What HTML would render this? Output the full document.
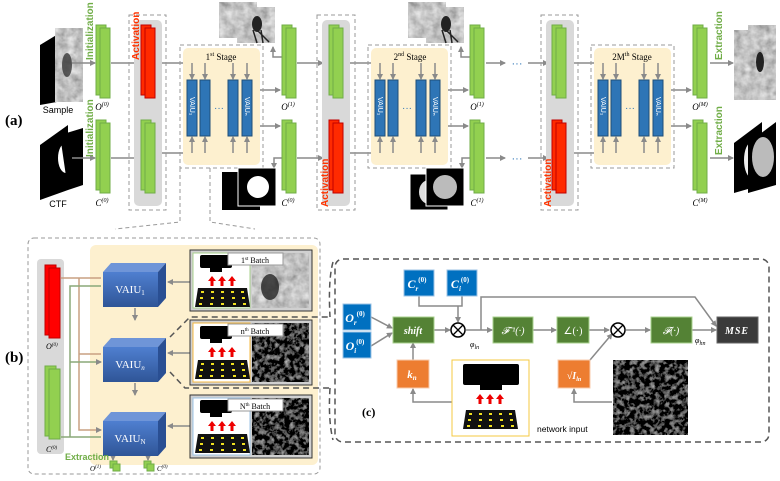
<!DOCTYPE html>
<html><head><meta charset="utf-8"><style>
html,body{margin:0;padding:0;background:#fff}
svg{display:block}
.s{font-family:"Liberation Serif",serif}
.a{font-family:"Liberation Sans",sans-serif}
</style></head><body>
<svg width="780" height="481" viewBox="0 0 780 481" xmlns="http://www.w3.org/2000/svg">
<defs>
<marker id="ar" markerWidth="6" markerHeight="6" refX="5" refY="3" orient="auto" markerUnits="userSpaceOnUse"><path d="M0,0 L6,3 L0,6z" fill="#8a8a8a"/></marker>
<filter id="nz" x="0" y="0" width="100%" height="100%"><feTurbulence type="fractalNoise" baseFrequency="0.12" numOctaves="3" seed="3"/><feColorMatrix type="matrix" values="0.33 0.33 0.33 0 0  0.33 0.33 0.33 0 0  0.33 0.33 0.33 0 0  0 0 0 0 1"/><feComponentTransfer><feFuncR type="linear" slope="1.2" intercept="-0.05"/><feFuncG type="linear" slope="1.2" intercept="-0.05"/><feFuncB type="linear" slope="1.2" intercept="-0.05"/></feComponentTransfer></filter>
<filter id="nzd" x="0" y="0" width="100%" height="100%"><feTurbulence type="fractalNoise" baseFrequency="0.2" numOctaves="3" seed="7"/><feColorMatrix type="matrix" values="0.33 0.33 0.33 0 0  0.33 0.33 0.33 0 0  0.33 0.33 0.33 0 0  0 0 0 0 1"/><feComponentTransfer><feFuncR type="linear" slope="1.6" intercept="-0.75"/><feFuncG type="linear" slope="1.6" intercept="-0.75"/><feFuncB type="linear" slope="1.6" intercept="-0.75"/></feComponentTransfer></filter>
<linearGradient id="bg" x1="0" y1="0" x2="0" y2="1"><stop offset="0" stop-color="#4f7fd0"/><stop offset="1" stop-color="#2f5597"/></linearGradient>
<g id="gb"><rect x="0" y="0" width="10" height="70" fill="#92d050" stroke="#70ad47"/><rect x="4" y="3" width="10" height="70" fill="#92d050" stroke="#70ad47"/></g>
<g id="rb"><rect x="0" y="0" width="10" height="70" fill="#ff2a00" stroke="#c00000"/><rect x="4" y="3" width="10" height="70" fill="#ff2a00" stroke="#c00000"/></g>
<g id="stage">
<rect x="0" y="0" width="83" height="123" fill="none" stroke="#999" stroke-dasharray="4,3"/>
<rect x="3" y="3" width="77" height="117" rx="5" fill="#fdf0cf"/>
<g stroke="#8a8a8a" stroke-width="1.5" fill="none" marker-end="url(#ar)">
<line x1="12" y1="18" x2="12" y2="34"/><line x1="25" y1="18" x2="25" y2="34"/><line x1="53" y1="18" x2="53" y2="34"/><line x1="67" y1="18" x2="67" y2="34"/>
<line x1="12" y1="108" x2="12" y2="92"/><line x1="25" y1="108" x2="25" y2="92"/><line x1="53" y1="108" x2="53" y2="92"/><line x1="67" y1="108" x2="67" y2="92"/>
</g>
<g fill="#2e75b6" stroke="#1f4e79"><rect x="7" y="35" width="10" height="56"/><rect x="20" y="35" width="10" height="56"/><rect x="48" y="35" width="10" height="56"/><rect x="62" y="35" width="10" height="56"/></g>
<text x="39" y="66" text-anchor="middle" fill="#2e75b6" font-size="10" class="a">···</text>
<text transform="translate(10,52) rotate(90)" fill="#fff" font-size="7" class="a">VAIU₁</text>
<text transform="translate(65,52) rotate(90)" fill="#fff" font-size="7" class="a">VAIUₙ</text>
</g>
<g id="cam"><rect x="0" y="0" width="38" height="36" fill="#888" filter="url(#nz)"/><rect x="18" y="5" width="38" height="36" fill="#888" filter="url(#nz)"/><ellipse cx="38" cy="22" rx="5" ry="8" fill="#222"/><path d="M34,28 L38,41 M42,28 L44,41 M38,28 L50,40" stroke="#222" stroke-width="1.5"/></g>
<g id="ctf"><rect x="0" y="6" width="38" height="36" fill="#000" stroke="#fff"/><ellipse cx="19" cy="24" rx="10" ry="12" fill="#ddd"/><rect x="16" y="0" width="38" height="38" fill="#000" stroke="#fff"/><circle cx="35" cy="19" r="12" fill="#bbb"/></g>
<g id="grid"><path d="M3,0 L52,0 L55,19 L0,19z" fill="#111"/><g fill="#f0e020"><rect x="6" y="3" width="3" height="2"/><rect x="16" y="3" width="3" height="2"/><rect x="26" y="3" width="3" height="2"/><rect x="36" y="3" width="3" height="2"/><rect x="46" y="3" width="3" height="2"/><rect x="5" y="9" width="3" height="2"/><rect x="16" y="9" width="3" height="2"/><rect x="26" y="9" width="3" height="2"/><rect x="37" y="9" width="3" height="2"/><rect x="47" y="9" width="3" height="2"/><rect x="4" y="15" width="3" height="2"/><rect x="15" y="15" width="3" height="2"/><rect x="26" y="15" width="3" height="2"/><rect x="38" y="15" width="3" height="2"/><rect x="48" y="15" width="3" height="2"/></g></g>
<g id="camera"><rect x="0" y="0" width="32" height="13" rx="2" fill="#000"/><rect x="10" y="13" width="12" height="4" fill="#000"/></g>
<g id="up3" fill="#e00"><path d="M0,5 L4,0 L8,5 L5.5,5 L5.5,10 L2.5,10 L2.5,5z"/><path d="M10,5 L14,0 L18,5 L15.5,5 L15.5,10 L12.5,10 L12.5,5z"/><path d="M20,5 L24,0 L28,5 L25.5,5 L25.5,10 L22.5,10 L22.5,5z"/></g>
</defs>

<text x="5" y="125" font-size="15" font-weight="bold" class="s">(a)</text>
<path d="M40,45 L68,28 L68,100 L40,105z" fill="#000"/>
<path d="M55,38 L83,28 L83,92 L55,102z" fill="#888" filter="url(#nz)"/>
<ellipse cx="67" cy="65" rx="5" ry="12" fill="#222" opacity="0.7"/>
<text x="58" y="113" text-anchor="middle" font-size="9" class="a">Sample</text>
<path d="M40,145 L68,125 L68,190 L40,200z" fill="#000"/>
<ellipse cx="66" cy="158" rx="8" ry="15" fill="#fff"/>
<path d="M60,135 L83,128 L83,185 L68,190z" fill="#000"/>
<text x="58" y="207" text-anchor="middle" font-size="9" class="a">CTF</text>
<text transform="translate(93,60) rotate(-90)" fill="#70ad47" font-size="10" font-weight="bold" class="a">Initialization</text>
<text transform="translate(93,157) rotate(-90)" fill="#70ad47" font-size="10" font-weight="bold" class="a">Initialization</text>
<use href="#gb" x="96" y="25"/><use href="#gb" x="96" y="120"/>
<g font-size="9" font-style="italic" class="s" text-anchor="middle">
<text x="102" y="110">O<tspan font-size="6" dy="-4">(0)</tspan></text><text x="102" y="206">C<tspan font-size="6" dy="-4">(0)</tspan></text>
<text x="150" y="110">O<tspan font-size="6" dy="-4">(0)</tspan></text><text x="150" y="206">C<tspan font-size="6" dy="-4">(0)</tspan></text>
<text x="288" y="110">O<tspan font-size="6" dy="-4">(1)</tspan></text><text x="288" y="206">C<tspan font-size="6" dy="-4">(0)</tspan></text>
<text x="336" y="110">O<tspan font-size="6" dy="-4">(1)</tspan></text><text x="336" y="206">C<tspan font-size="6" dy="-4">(0)</tspan></text>
<text x="477" y="110">O<tspan font-size="6" dy="-4">(1)</tspan></text><text x="477" y="206">C<tspan font-size="6" dy="-4">(1)</tspan></text>
<text x="560" y="110">O<tspan font-size="6" dy="-4">(M)</tspan></text><text x="562" y="206">C<tspan font-size="6" dy="-4">(M−1)</tspan></text>
<text x="700" y="110">O<tspan font-size="6" dy="-4">(M)</tspan></text><text x="700" y="206">C<tspan font-size="6" dy="-4">(M)</tspan></text>
</g>
<g stroke="#8a8a8a" stroke-width="1.5" fill="none" marker-end="url(#ar)">
<line x1="72" y1="63" x2="95" y2="63"/><line x1="72" y1="158" x2="95" y2="158"/>
<line x1="111" y1="63" x2="139" y2="63"/><line x1="111" y1="158" x2="139" y2="158"/>
<line x1="254" y1="90" x2="280" y2="90"/><line x1="254" y1="126" x2="280" y2="126"/>
<line x1="297" y1="63" x2="323" y2="63"/><line x1="297" y1="158" x2="323" y2="158"/>
<line x1="442" y1="90" x2="468" y2="90"/><line x1="442" y1="126" x2="468" y2="126"/>
<line x1="486" y1="63" x2="505" y2="63"/><line x1="486" y1="158" x2="505" y2="158"/>
<line x1="528" y1="63" x2="548" y2="63"/><line x1="528" y1="158" x2="548" y2="158"/>
<line x1="665" y1="90" x2="691" y2="90"/><line x1="665" y1="126" x2="691" y2="126"/>
<line x1="710" y1="63" x2="733" y2="63"/><line x1="710" y1="158" x2="733" y2="158"/>
<path d="M283,57 L273,57 L273,47"/><path d="M283,158 L274,158 L274,168"/>
<path d="M471,57 L461,57 L461,47"/><path d="M471,158 L462,158 L462,168"/>
</g>
<g stroke="#8a8a8a" stroke-width="1.5">
<line x1="160" y1="63" x2="248" y2="63"/><line x1="160" y1="153" x2="248" y2="153"/>
<line x1="348" y1="63" x2="436" y2="63"/><line x1="348" y1="153" x2="436" y2="153"/>
<line x1="572" y1="63" x2="659" y2="63"/><line x1="572" y1="153" x2="659" y2="153"/>
</g>
<rect x="129" y="15" width="37" height="195" fill="none" stroke="#999" stroke-dasharray="4,3"/>
<rect x="134" y="20" width="28" height="186" rx="5" fill="#d9d9d9"/>
<use href="#rb" x="141" y="25"/><use href="#gb" x="141" y="120"/>
<text transform="translate(139,60) rotate(-90)" fill="#ff3300" font-size="10" font-weight="bold" class="a">Activation</text>
<rect x="317" y="15" width="38" height="195" fill="none" stroke="#999" stroke-dasharray="4,3"/>
<rect x="322" y="20" width="28" height="186" rx="5" fill="#d9d9d9"/>
<use href="#gb" x="329" y="25"/><use href="#rb" x="329" y="120"/>
<text transform="translate(328,207) rotate(-90)" fill="#ff3300" font-size="10" font-weight="bold" class="a">Activation</text>
<rect x="541" y="15" width="37" height="195" fill="none" stroke="#999" stroke-dasharray="4,3"/>
<rect x="546" y="20" width="28" height="186" rx="5" fill="#d9d9d9"/>
<use href="#gb" x="552" y="25"/><use href="#rb" x="552" y="120"/>
<text transform="translate(551,207) rotate(-90)" fill="#ff3300" font-size="10" font-weight="bold" class="a">Activation</text>
<use href="#stage" x="180" y="45"/><use href="#stage" x="368" y="45"/><use href="#stage" x="591" y="45"/>
<text x="221" y="60" text-anchor="middle" font-size="9" class="s">1<tspan font-size="6" dy="-4">st</tspan><tspan dy="4"> Stage</tspan></text>
<text x="410" y="60" text-anchor="middle" font-size="9" class="s">2<tspan font-size="6" dy="-4">nd</tspan><tspan dy="4"> Stage</tspan></text>
<text x="632" y="60" text-anchor="middle" font-size="9" class="s">2M<tspan font-size="6" dy="-4">th</tspan><tspan dy="4"> Stage</tspan></text>
<use href="#gb" x="282" y="25"/><use href="#gb" x="282" y="120"/>
<use href="#gb" x="470" y="25"/><use href="#gb" x="470" y="120"/>
<use href="#gb" x="693" y="25"/><use href="#gb" x="693" y="120"/>
<text x="517" y="67" text-anchor="middle" fill="#2e75b6" font-size="11" class="a">···</text>
<text x="517" y="162" text-anchor="middle" fill="#2e75b6" font-size="11" class="a">···</text>
<use href="#cam" x="219" y="2"/><use href="#cam" x="408" y="2"/>
<rect x="222" y="172" width="38" height="38" fill="#000"/><rect x="238" y="168" width="38" height="38" fill="#000" stroke="#fff"/><circle cx="258" cy="187" r="11" fill="#fff"/>
<use href="#ctf" x="410" y="168"/>
<text transform="translate(722,60) rotate(-90)" fill="#70ad47" font-size="10" font-weight="bold" class="a">Extraction</text>
<text transform="translate(722,155) rotate(-90)" fill="#70ad47" font-size="10" font-weight="bold" class="a">Extraction</text>
<path d="M734,45 L762,30 L762,92 L734,100z" fill="#888" filter="url(#nz)"/>
<path d="M748,40 L776,25 L776,88 L748,100z" fill="#999" filter="url(#nz)"/>
<ellipse cx="760" cy="62" rx="4" ry="10" fill="#222"/>
<path d="M734,143 L762,122 L762,185 L734,193z" fill="#000"/><ellipse cx="752" cy="160" rx="8" ry="18" fill="#eee"/>
<path d="M748,143 L776,122 L776,185 L748,193z" fill="#000"/><ellipse cx="763" cy="157" rx="11" ry="20" fill="#bbb"/>

<path d="M180,168 L180,222 L115,229 M210,168 L210,222 L255,229" fill="none" stroke="#999" stroke-dasharray="4,3"/>

<text x="5" y="362" font-size="15" font-weight="bold" class="s">(b)</text>
<rect x="28" y="238" width="292" height="236" rx="6" fill="none" stroke="#999" stroke-dasharray="4,3"/>
<rect x="90" y="245" width="228" height="220" rx="6" fill="#fdf0cf"/>
<rect x="37" y="259" width="27" height="195" rx="4" fill="#d9d9d9"/>
<rect x="45" y="265" width="11" height="70" fill="#ff0000" stroke="#c00000"/><rect x="49" y="268" width="11" height="70" fill="#ff0000" stroke="#c00000"/>
<rect x="45" y="366" width="11" height="70" fill="#92d050" stroke="#70ad47"/><rect x="49" y="369" width="11" height="70" fill="#92d050" stroke="#70ad47"/>
<text x="46" y="349" font-size="8" font-style="italic" class="s">O<tspan font-size="5" dy="-3">(0)</tspan></text>
<text x="46" y="452" font-size="8" font-style="italic" class="s">C<tspan font-size="5" dy="-3">(0)</tspan></text>
<g fill="none" stroke-width="1.5" marker-end="url(#ar)">
<path d="M61,278 L101,278 M79,278 L79,354 L101,354 M79,354 L79,430 L101,430" stroke="#c9a082"/>
<path d="M61,437 L101,437 M70,437 L70,286 L101,286 M70,362 L101,362" stroke="#8aa878"/>
</g>
<g stroke="#8a8a8a" stroke-width="1.5" fill="none" marker-end="url(#ar)">
<line x1="135" y1="308" x2="135" y2="320"/><line x1="135" y1="383" x2="135" y2="395"/>
<line x1="190" y1="282" x2="168" y2="282"/><line x1="190" y1="353" x2="168" y2="353"/><line x1="190" y1="426" x2="168" y2="426"/>
<line x1="113" y1="448" x2="113" y2="460"/><line x1="148" y1="448" x2="148" y2="460"/>
</g>
<text x="135" y="318" text-anchor="middle" fill="#8a8a8a" font-size="7">···</text>
<text x="135" y="393" text-anchor="middle" fill="#8a8a8a" font-size="7">···</text>
<g>
<path d="M103,272 L111,263 L166,263 L158,272z" fill="#6f95d8"/><path d="M158,272 L166,263 L166,298 L158,307z" fill="#2a4f93"/><rect x="103" y="272" width="55" height="35" fill="url(#bg)"/>
<path d="M103,347 L111,338 L166,338 L158,347z" fill="#6f95d8"/><path d="M158,347 L166,338 L166,373 L158,382z" fill="#2a4f93"/><rect x="103" y="347" width="55" height="35" fill="url(#bg)"/>
<path d="M103,421 L111,412 L166,412 L158,421z" fill="#6f95d8"/><path d="M158,421 L166,412 L166,447 L158,456z" fill="#2a4f93"/><rect x="103" y="421" width="55" height="35" fill="url(#bg)"/>
</g>
<g fill="#fff" font-size="11" class="s" text-anchor="middle">
<text x="130" y="293">VAIU<tspan font-size="7" dy="2">1</tspan></text>
<text x="130" y="368">VAIU<tspan font-size="7" dy="2" font-style="italic">n</tspan></text>
<text x="130" y="442">VAIU<tspan font-size="7" dy="2">N</tspan></text>
</g>
<text x="65" y="460" fill="#70ad47" font-size="9" font-weight="bold" class="a">Extraction</text>
<rect x="110" y="461" width="7" height="7" fill="#92d050" stroke="#70ad47"/><rect x="113" y="464" width="7" height="7" fill="#92d050" stroke="#70ad47"/>
<rect x="144" y="461" width="7" height="7" fill="#92d050" stroke="#70ad47"/><rect x="147" y="464" width="7" height="7" fill="#92d050" stroke="#70ad47"/>
<text x="90" y="471" font-size="7" font-style="italic" class="s">O<tspan font-size="5" dy="-3">(1)</tspan></text>
<text x="157" y="471" font-size="7" font-style="italic" class="s">C<tspan font-size="5" dy="-3">(0)</tspan></text>
<g>
<rect x="190" y="250" width="122" height="61" fill="#d0d0d0" stroke="#333"/><rect x="193" y="253" width="57" height="55" fill="#fff" stroke="#a9d18e"/><rect x="252" y="253" width="57" height="55" fill="#888" filter="url(#nz)"/><ellipse cx="270" cy="287" rx="9" ry="13" fill="#222" opacity="0.8"/>
<use href="#camera" x="200" y="255"/><rect x="228" y="253" width="55" height="12" fill="#fff" stroke="#999"/><use href="#up3" x="208" y="276"/><use href="#grid" x="195" y="288"/>
<text x="255" y="263" text-anchor="middle" font-size="8" class="s">1<tspan font-size="5" dy="-3">st</tspan><tspan dy="3"> Batch</tspan></text>
</g>
<g>
<rect x="190" y="320" width="122" height="65" fill="#d0d0d0" stroke="#333"/><rect x="193" y="323" width="57" height="59" fill="#fff" stroke="#f4b942"/><rect x="252" y="323" width="57" height="59" fill="#666" filter="url(#nzd)"/>
<use href="#camera" x="200" y="326"/><rect x="228" y="324" width="55" height="12" fill="#fff" stroke="#999"/><use href="#up3" x="208" y="347"/><use href="#grid" x="195" y="360"/>
<text x="255" y="334" text-anchor="middle" font-size="8" class="s">n<tspan font-size="5" dy="-3">th</tspan><tspan dy="3"> Batch</tspan></text>
</g>
<g>
<rect x="190" y="395" width="122" height="63" fill="#d0d0d0" stroke="#333"/><rect x="193" y="398" width="57" height="57" fill="#fff" stroke="#9dc3e6"/><rect x="252" y="398" width="57" height="57" fill="#555" filter="url(#nzd)"/>
<use href="#camera" x="200" y="400"/><rect x="228" y="399" width="55" height="12" fill="#fff" stroke="#999"/><use href="#up3" x="208" y="421"/><use href="#grid" x="195" y="434"/>
<text x="255" y="409" text-anchor="middle" font-size="8" class="s">N<tspan font-size="5" dy="-3">th</tspan><tspan dy="3"> Batch</tspan></text>
</g>
<path d="M170,337 L190,317 L330,317 M170,372 L185,388 L330,388" fill="none" stroke="#555" stroke-width="1.5" stroke-dasharray="6,4"/>
<path d="M333,262 Q328,280 330,317 M330,388 Q328,420 333,440" fill="none" stroke="#555" stroke-width="1.5" stroke-dasharray="6,4"/>

<rect x="335" y="259" width="434" height="183" rx="8" fill="none" stroke="#555" stroke-width="1.5" stroke-dasharray="6,4"/>
<g stroke="#8a8a8a" stroke-width="1.5" fill="none" marker-end="url(#ar)">
<line x1="371" y1="317" x2="392" y2="328"/><line x1="371" y1="346" x2="392" y2="333"/>
<line x1="434" y1="330" x2="450" y2="330"/>
<path d="M419,296 L419,306 L462,306 L462,296 M462,306 L458,306 L458,322"/>
<line x1="466" y1="330" x2="492" y2="330"/>
<line x1="533" y1="330" x2="556" y2="330"/>
<line x1="589" y1="330" x2="609" y2="330"/>
<line x1="590" y1="360" x2="612" y2="334"/>
<line x1="626" y1="330" x2="650" y2="330"/>
<line x1="692" y1="330" x2="716" y2="330"/>
<path d="M481,330 L481,297 L695,297 L716,326"/>
<path d="M452,402 L413,402 L413,389"/><line x1="413" y1="360" x2="413" y2="343"/>
<path d="M612,402 L574,402 L574,389"/>
</g>
<g class="s" font-weight="bold" font-style="italic" fill="#fff" text-anchor="middle">
<rect x="343" y="304" width="28" height="26" fill="#0070c0" stroke="#9dc3e6"/><text x="355" y="322" font-size="12">O<tspan font-size="7" dy="3">r</tspan><tspan font-size="7" dy="-9" font-style="normal">(0)</tspan></text>
<rect x="343" y="332" width="28" height="26" fill="#0070c0" stroke="#9dc3e6"/><text x="355" y="350" font-size="12">O<tspan font-size="7" dy="3">i</tspan><tspan font-size="7" dy="-9" font-style="normal">(0)</tspan></text>
<rect x="404" y="270" width="30" height="26" fill="#0070c0" stroke="#9dc3e6"/><text x="417" y="288" font-size="12">C<tspan font-size="7" dy="3">r</tspan><tspan font-size="7" dy="-9" font-style="normal">(0)</tspan></text>
<rect x="447" y="270" width="30" height="26" fill="#0070c0" stroke="#9dc3e6"/><text x="460" y="288" font-size="12">C<tspan font-size="7" dy="3">i</tspan><tspan font-size="7" dy="-9" font-style="normal">(0)</tspan></text>
<rect x="393" y="317" width="41" height="26" fill="#548235" stroke="#a9d18e"/><text x="413" y="334" font-size="10">shift</text>
<rect x="493" y="317" width="40" height="26" fill="#548235" stroke="#a9d18e"/><text x="513" y="334" font-size="10" font-weight="normal">𝓕⁻¹(·)</text>
<rect x="557" y="317" width="32" height="26" fill="#548235" stroke="#a9d18e"/><text x="573" y="334" font-size="10" font-weight="normal" font-style="normal">∠(·)</text>
<rect x="651" y="317" width="41" height="26" fill="#548235" stroke="#a9d18e"/><text x="671" y="334" font-size="10" font-weight="normal">𝓕(·)</text>
<rect x="717" y="317" width="41" height="26" fill="#3a3a3a" stroke="#666"/><text x="737" y="334" font-size="10" letter-spacing="1">MSE</text>
<rect x="397" y="360" width="32" height="28" fill="#ed7d31" stroke="#f8cbad"/><text x="412" y="378" font-size="11">k<tspan font-size="7" dy="2">n</tspan></text>
<rect x="558" y="360" width="32" height="28" fill="#ed7d31" stroke="#f8cbad"/><text x="574" y="379" font-size="10">√I<tspan font-size="6" dy="2">ln</tspan></text>
</g>
<circle cx="458" cy="330" r="7" fill="#fff" stroke="#000" stroke-width="1.5"/><path d="M453,325 L463,335 M463,325 L453,335" stroke="#000" stroke-width="1.3"/>
<circle cx="618" cy="330" r="7" fill="#fff" stroke="#000" stroke-width="1.5"/><path d="M613,325 L623,335 M623,325 L613,335" stroke="#000" stroke-width="1.3"/>
<text x="470" y="347" font-size="8" font-style="italic" class="s">φ<tspan font-size="6" dy="2">ln</tspan></text>
<text x="695" y="343" font-size="8" font-style="italic" class="s">φ<tspan font-size="6" dy="2">hn</tspan></text>
<rect x="452" y="360" width="77" height="76" fill="#fff" stroke="#f4c842"/>
<rect x="463" y="364" width="56" height="21" rx="2" fill="#000"/><rect x="480" y="385" width="22" height="5" fill="#000"/>
<use href="#up3" x="476" y="394"/>
<use href="#grid" x="463" y="410"/>
<text x="537" y="432" font-size="8.5" class="a">network input</text>
<rect x="613" y="360" width="75" height="75" fill="#555" stroke="#f4c842" filter="url(#nzd)"/>
<text x="362" y="416" font-size="12" font-weight="bold" class="s">(c)</text>
</svg>
</body></html>
